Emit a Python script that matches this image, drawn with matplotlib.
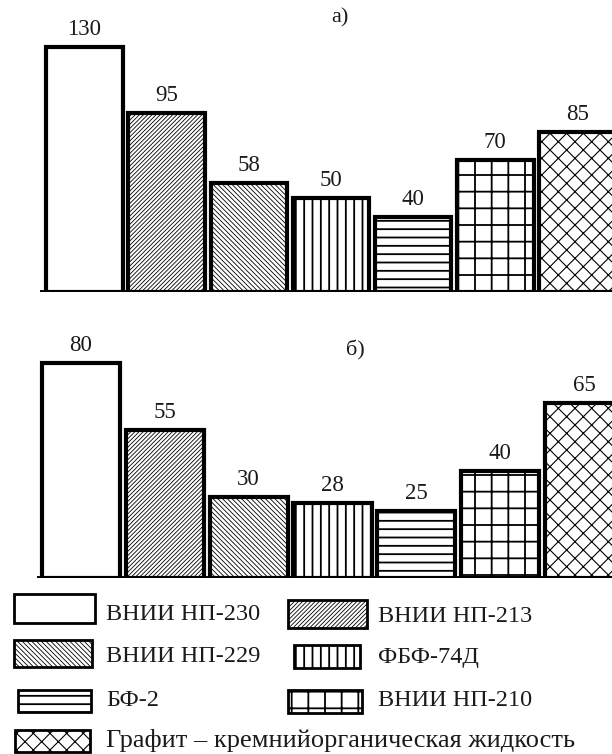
import matplotlib.pyplot as plt
from matplotlib.patches import Rectangle
import numpy as np

plt.rcParams['font.family'] = ['Liberation Serif', 'DejaVu Serif']

# lubricants, same order in both charts
names = ['ВНИИ НП-230', 'ВНИИ НП-213', 'ВНИИ НП-229', 'ФБФ-74Д',
         'БФ-2', 'ВНИИ НП-210', 'Графит – кремнийорганическая жидкость']
values_a = [130, 95, 58, 50, 40, 70, 85]
values_b = [80, 55, 30, 28, 25, 40, 65]

hatches = ['', '/' * 8, '\\' * 7, '||', '--', '+', 'xx']
hatch_lw = [1.0, 0.6, 0.6, 1.3, 1.3, 1.3, 0.8]

fig = plt.figure(figsize=(6.12, 7.54), dpi=100)
W, H = 612, 754


def px_axes(left, top, right, bottom):
    return fig.add_axes([left / W, 1 - bottom / H, (right - left) / W, (bottom - top) / H])


def draw_bars(ax, values, xlim, ylim):
    x = np.arange(len(values))
    for i, v in enumerate(values):
        with plt.rc_context({'hatch.linewidth': hatch_lw[i]}):
            b = ax.bar(x[i], v, width=0.93, color='white', edgecolor='black',
                       linewidth=3, hatch=hatches[i], zorder=2)
        ax.bar_label(b, padding=5, fontsize=16.5, color='#1a1a1a')
    ax.axhline(0, color='black', lw=3.5, zorder=3)
    ax.set_xlim(*xlim)
    ax.set_ylim(*ylim)
    ax.axis('off')


ax1 = px_axes(40, 20, 612, 292)
draw_bars(ax1, values_a, (-0.54, 6.42), (0, 144.3))
fig.text(340 / W, 1 - 18 / H, 'а)', ha='center', va='center', fontsize=16, color='#1a1a1a')

ax2 = px_axes(37, 345, 612, 578)
draw_bars(ax2, values_b, (-0.52, 6.33), (0, 86.7))
fig.text(355 / W, 1 - 350 / H, 'б)', ha='center', va='center', fontsize=16, color='#1a1a1a')

# legend drawn by hand in pixel coordinates
leg = fig.add_axes([0, 0, 1, 1], zorder=-1)
leg.set_xlim(0, W)
leg.set_ylim(H, 0)
leg.axis('off')

boxes = [
    (14, 594, 81, 29, 106, 615, 17.5),
    (288, 600, 79, 28, 378, 616, 17.5),
    (14, 640, 78, 27, 106, 656, 17.5),
    (294, 645, 66, 23, 378, 658, 17.5),
    (18, 690, 73, 22, 106, 700, 17.5),
    (288, 690, 74, 23, 378, 700, 17.5),
    (15, 730, 75, 22, 106, 740, 19),
]
for i, (bx, by, bw, bh, tx, ty, fs) in enumerate(boxes):
    with plt.rc_context({'hatch.linewidth': hatch_lw[i]}):
        leg.add_patch(Rectangle((bx, by), bw, bh, facecolor='white',
                                edgecolor='black', lw=2, hatch=hatches[i]))
    leg.text(tx, ty, names[i], ha='left', va='center', fontsize=fs, color='#1a1a1a')

fig.savefig('out.png', dpi=100, facecolor='white')
